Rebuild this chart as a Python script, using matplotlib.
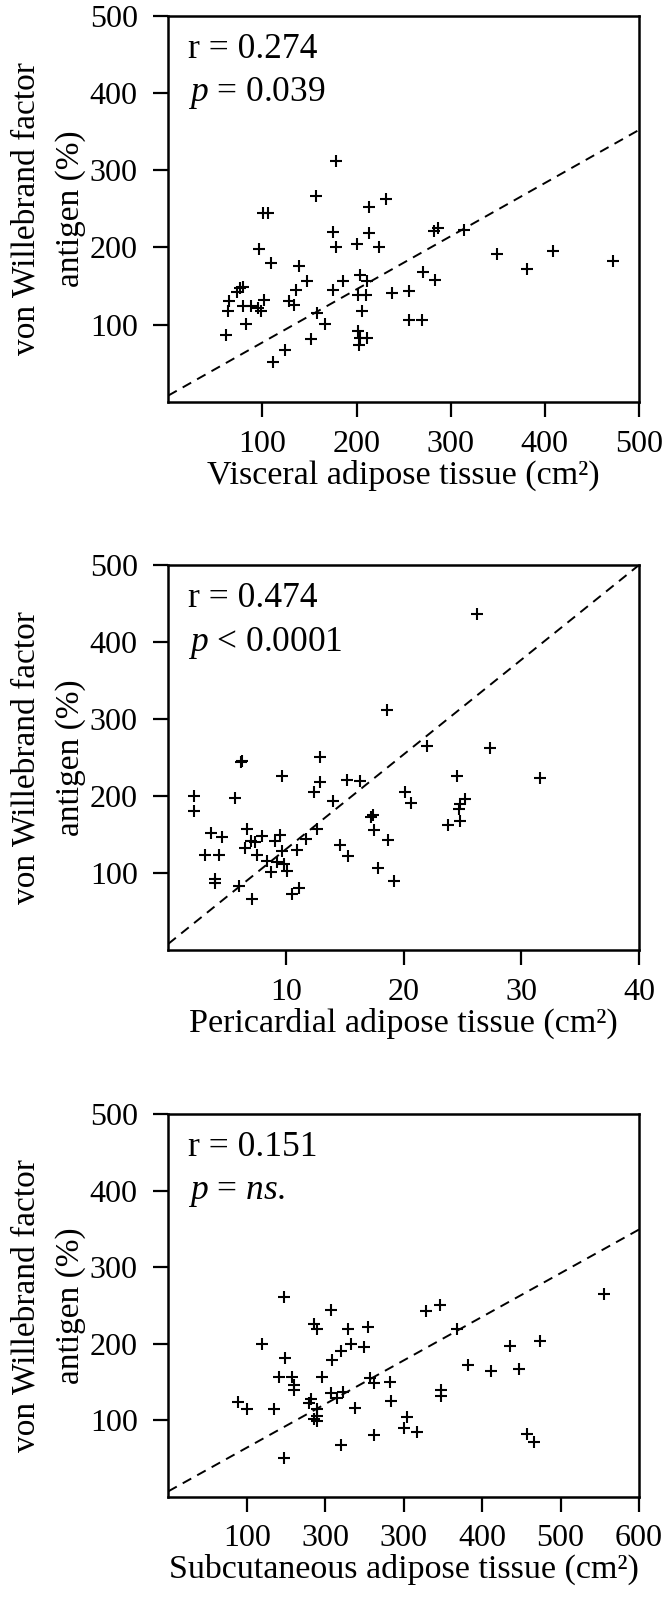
import numpy as np
import matplotlib
matplotlib.use("Agg")
import matplotlib.pyplot as plt

plt.rcParams['font.family'] = ['Liberation Serif', 'DejaVu Serif']
plt.rcParams['mathtext.fontset'] = 'custom'
plt.rcParams['mathtext.rm'] = 'Liberation Serif'
plt.rcParams['mathtext.it'] = 'Liberation Serif:italic'

# visceral adipose tissue (cm2) vs vWF antigen (%)
vat_x = [178, 157, 231, 213, 101, 106, 175, 213, 282, 286, 314, 96, 178, 200, 224,
         349, 409, 472, 381, 109, 139, 147, 186, 204, 211, 271, 283, 76, 79, 73,
         136, 175, 238, 256, 202, 210, 65, 63, 79, 88, 95, 102, 99, 128, 134,
         158, 166, 83, 61, 111, 124, 152, 206, 201, 204, 211, 203, 256, 270]
vat_y = [312, 266, 263, 252, 245, 245, 220, 219, 221, 225, 223, 198, 200, 204, 200,
         191, 195, 182, 172, 180, 176, 156, 156, 164, 157, 168, 158, 147, 149, 142,
         145, 145, 141, 143, 138, 138, 131, 118, 124, 124, 122, 132, 117, 131, 125,
         115, 101, 101, 86, 51, 67, 81, 117, 91, 83, 82, 73, 106, 106]

# pericardial adipose tissue (cm2)
pat_x = [26.2, 18.6, 22.0, 27.3, 6.2, 6.3, 12.9, 9.7, 24.5, 31.6, 12.9, 15.2, 16.3,
         12.4, 5.7, 2.15, 2.15, 14.0, 20.1, 20.6, 25.2, 24.8, 24.7, 24.8, 23.8,
         17.2, 17.4, 17.5, 18.7, 14.6, 15.3, 17.8, 19.2, 3.6, 4.6, 3.1, 4.3, 4.0,
         4.0, 6.0, 7.1, 6.7, 7.0, 6.5, 7.4, 7.5, 8.0, 9.1, 9.5, 9.7, 8.4, 8.7,
         9.2, 9.8, 10.1, 10.9, 11.7, 12.6, 10.5, 11.1]
pat_y = [436, 312, 265, 263, 244, 245, 251, 226, 226, 223, 218, 221, 219,
         205, 198, 200, 180, 194, 205, 191, 196, 190, 183, 168, 163,
         173, 175, 156, 143, 137, 122, 106, 89, 152, 147, 123, 123, 92,
         87, 83, 66, 157, 142, 133, 140, 123, 148, 142, 149, 129, 116, 101,
         114, 112, 103, 130, 144, 157, 73, 81]

# subcutaneous adipose tissue (cm2)
sat_x = [147, 208, 329, 346, 555, 186, 189, 229, 255, 368, 119, 233, 250, 436, 474,
         149, 220, 209, 382, 412, 447, 141, 158, 160, 160, 196, 257, 262, 283, 284,
         208, 215, 223, 347, 347, 89, 100, 135, 182, 179, 189, 190, 186, 190, 238,
         304, 301, 317, 262, 220, 147, 457, 466]
sat_y = [261, 244, 243, 250, 265, 226, 219, 219, 222, 219, 199, 199, 195, 197, 203,
         181, 190, 179, 172, 164, 167, 156, 156, 146, 140, 157, 155, 148, 150, 125,
         136, 129, 137, 140, 131, 124, 115, 115, 128, 123, 114, 106, 101, 99, 116,
         104, 90, 85, 81, 67, 51, 82, 71]

# regression lines (intercept, slope)
vat_fit = [8, 0.688]
pat_fit = [8, 12.3]
sat_fit = [7, 0.57]

panels = [
    (vat_x, vat_y, vat_fit, 500, [100, 200, 300, 400, 500], ['100', '200', '300', '400', '500'],
     'Visceral adipose tissue (cm²)', 'r = 0.274', '$p$ = 0.039'),
    (pat_x, pat_y, pat_fit, 40, [10, 20, 30, 40], ['10', '20', '30', '40'],
     'Pericardial adipose tissue (cm²)', 'r = 0.474', '$p$ < 0.0001'),
    (sat_x, sat_y, sat_fit, 600, [100, 200, 300, 400, 500, 600], ['100', '300', '300', '400', '500', '600'],
     'Subcutaneous adipose tissue (cm²)', 'r = 0.151', '$p$ = $ns.$'),
]

fig = plt.figure(figsize=(6.67, 15.98), dpi=100)
bottoms = [0.7486, 0.4055, 0.0634]
heights = [0.2416, 0.2409, 0.2395]

for (x, y, fit, xmax, xt, xtl, xlab, rtxt, ptxt), b, h in zip(panels, bottoms, heights):
    ax = fig.add_axes([0.2523, b, 0.7057, h])
    ax.plot(x, y, linestyle='none', marker='+', color='black', markersize=9, markeredgewidth=1.5)
    xx = np.array([0, xmax])
    ax.plot(xx, fit[0] + fit[1] * xx, color='black', lw=1.4, linestyle=(0, (5, 3.5)))
    ax.set_xlim(0, xmax)
    ax.set_ylim(0, 500)
    ax.set_xticks(xt)
    ax.set_xticklabels(xtl)
    ax.set_yticks([100, 200, 300, 400, 500])
    ax.tick_params(axis='both', direction='out', length=11, width=1.6, labelsize=23)
    ax.tick_params(axis='y', pad=11)
    ax.tick_params(axis='x', pad=9)
    for s in ax.spines.values():
        s.set_linewidth(1.8)
    ax.set_xlabel(xlab, fontsize=24.5)
    ax.xaxis.set_label_coords(0.5, -0.15)
    ax.set_ylabel('von Willebrand factor\nantigen (%)', fontsize=24, linespacing=1.6)
    ax.yaxis.set_label_coords(-0.1745, 0.5)
    ax.text(0.042, 0.89, rtxt, transform=ax.transAxes, fontsize=25.5, va='baseline')
    ax.text(0.042, 0.778, ptxt, transform=ax.transAxes, fontsize=25.5, va='baseline')

plt.savefig('out.png', dpi=100)
